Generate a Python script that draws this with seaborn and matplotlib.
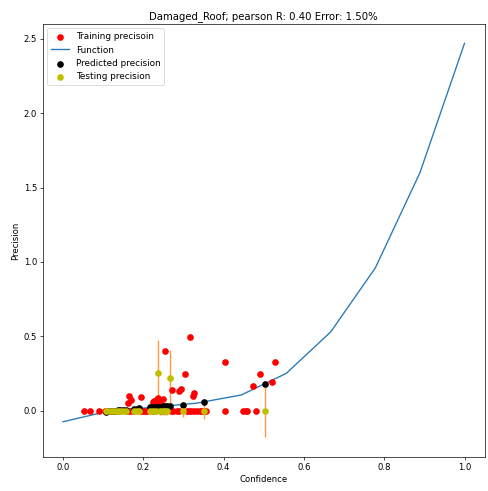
import matplotlib
matplotlib.use("Agg")
import matplotlib.pyplot as plt
import seaborn as sns
import numpy as np
import pandas as pd

# Fitted calibration function sampled on the confidence grid
func_x = [0.0, 0.111, 0.222, 0.333, 0.444, 0.556, 0.667, 0.778, 0.889, 1.0]
func_y = [-0.075, -0.005, 0.022, 0.05, 0.105, 0.25, 0.53, 0.96, 1.60, 2.47]

# Training samples (confidence, precision)
train_x = [0.052, 0.068, 0.09, 0.105, 0.115, 0.125, 0.14, 0.16, 0.168, 0.175,
           0.195, 0.20, 0.205, 0.21, 0.225, 0.245, 0.255, 0.27, 0.275, 0.283,
           0.29, 0.31, 0.315, 0.32, 0.325, 0.333, 0.34, 0.345, 0.35, 0.356,
           0.403, 0.449, 0.455, 0.459, 0.481,
           0.165, 0.170, 0.162, 0.195, 0.223, 0.226, 0.233, 0.237, 0.24, 0.249,
           0.254, 0.272, 0.29, 0.295, 0.303, 0.316, 0.323, 0.325, 0.404, 0.474,
           0.491, 0.521, 0.529]
train_y = [0.0, 0.0, 0.0, 0.0, 0.0, 0.0, 0.0, 0.0, 0.0, 0.0,
           0.0, 0.0, 0.0, 0.0, 0.0, 0.0, 0.0, 0.0, 0.0, 0.0,
           0.0, 0.0, 0.0, 0.0, 0.0, 0.0, 0.0, 0.0, 0.0, 0.0,
           0.0, 0.0, 0.0, 0.0, 0.0,
           0.095, 0.07, 0.05, 0.093, 0.06, 0.064, 0.077, 0.082, 0.057, 0.077,
           0.40, 0.14, 0.133, 0.143, 0.244, 0.495, 0.095, 0.118, 0.327, 0.165,
           0.244, 0.192, 0.327]

# Test samples: confidence, measured precision and predicted precision
test_x = [0.107, 0.115, 0.122, 0.130, 0.137, 0.143, 0.150, 0.156, 0.178, 0.185,
          0.190, 0.217, 0.225, 0.232, 0.237, 0.242, 0.248, 0.255, 0.260, 0.266,
          0.300, 0.351, 0.503]
test_y = [0.0, 0.0, 0.0, 0.0, 0.0, 0.0, 0.0, 0.0, 0.0, 0.0,
          0.0, 0.0, 0.0, 0.0, 0.25, 0.0, 0.0, 0.0, 0.0, 0.22,
          0.0, 0.0, 0.0]
pred_y = [-0.007, -0.004, -0.002, 0.0, 0.001, 0.003, 0.005, 0.006, 0.011, 0.013,
          0.014, 0.021, 0.023, 0.024, 0.026, 0.027, 0.029, 0.030, 0.032, 0.033,
          0.040, 0.057, 0.180]

title = "Damaged_Roof; pearson R: 0.40 Error: 1.50%"

fig = plt.figure(figsize=(8.0, 8.05), dpi=61)
ax = fig.add_axes([0.088, 0.069, 0.905, 0.882])

func_df = pd.DataFrame({"x": func_x, "y": func_y})
train_df = pd.DataFrame({"x": train_x, "y": train_y})
test_df = pd.DataFrame({"x": test_x, "y": test_y, "pred": pred_y})
test_df["err"] = (test_df["pred"] - test_df["y"]).abs()

dot = 62
sns.scatterplot(data=train_df, x="x", y="y", color="r", s=dot, linewidth=0,
                label="Training precisoin", ax=ax, zorder=3)
sns.lineplot(data=func_df, x="x", y="y", color="#2a7ab8", linewidth=1.6,
             label="Function", ax=ax, zorder=2, estimator=None, sort=False)
sns.scatterplot(data=test_df, x="x", y="pred", color="k", s=dot, linewidth=0,
                label="Predicted precision", ax=ax, zorder=4)
sns.scatterplot(data=test_df, x="x", y="y", color=(0.75, 0.75, 0.0), s=dot,
                linewidth=0, label="Testing precision", ax=ax, zorder=5)
ax.errorbar(test_df["x"], test_df["y"], yerr=test_df["err"], fmt="none",
            ecolor="#ff9a40", elinewidth=1.6, zorder=1.5)

ax.set_xlim(-0.05, 1.05)
ax.set_ylim(-0.313, 2.60)
ax.set_xlabel("Confidence", fontsize=10)
ax.set_ylabel("Precision", fontsize=10)
ax.set_title(title, fontsize=12)
ax.tick_params(labelsize=10)
ax.legend(loc="upper left", fontsize=10.5)

fig.savefig("out.png", dpi=61)
